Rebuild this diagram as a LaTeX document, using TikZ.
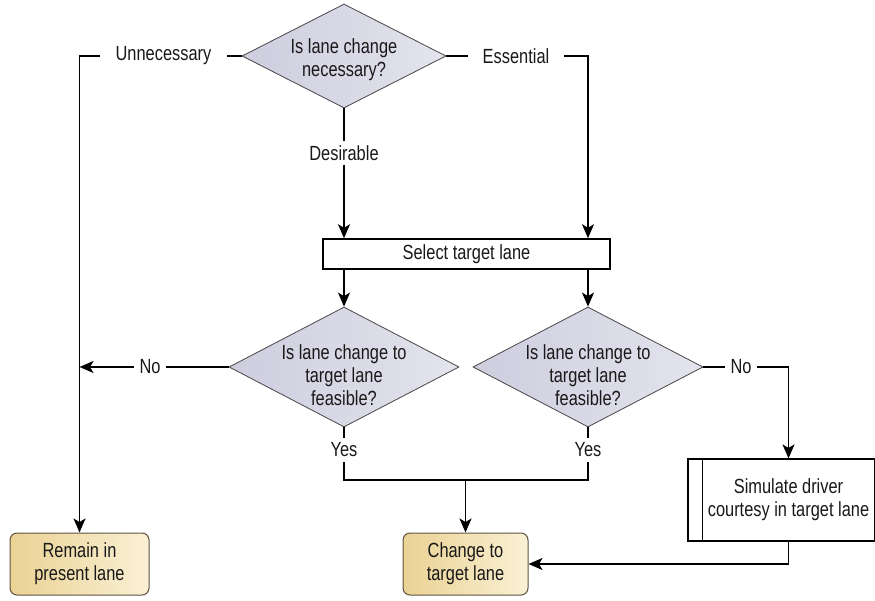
\documentclass[tikz,border=0pt]{standalone}
\usepackage{fontspec}
\setmainfont{Liberation Sans}[FakeStretch=0.8]
\usetikzlibrary{shapes.geometric,arrows.meta,calc}

\definecolor{diaA}{RGB}{205,205,222}
\definecolor{diaB}{RGB}{228,228,238}
\definecolor{goldA}{RGB}{234,210,148}
\definecolor{goldB}{RGB}{250,240,212}
\definecolor{goldEdge}{RGB}{95,85,65}
\definecolor{ink}{RGB}{25,25,25}

\tikzset{
  every node/.style={font=\fontsize{20.5}{23}\selectfont, text=ink},
  decision/.style={diamond, draw=ink!80, line width=0.8pt, inner sep=0pt,
    left color=diaA, right color=diaB},
  label on/.style={inner xsep=#1, inner ysep=4pt},
  label on/.default=15pt,
  plainbox/.style={rectangle, draw=black, line width=1.5pt, fill=white},
  terminal/.style={rectangle, rounded corners=7pt, draw=goldEdge, line width=1pt,
    left color=goldA, right color=goldB, align=center},
  conn/.style={draw=black, line width=1.6pt},
  arr/.style={conn, -{Stealth[length=14pt,width=12pt,inset=3.5pt]}},
}

\begin{document}
\begin{tikzpicture}[x=1pt, y=-1pt]
  \clip (0,0) rectangle (875,601);
  \fill[white] (0,0) rectangle (875,601);

  % decisions
  \node[decision, minimum width=204pt, minimum height=104pt] (q1) at (344,56) {};
  \node[align=center] (q1t) at (344,60) {Is lane change\\necessary?};

  \node[decision, minimum width=230pt, minimum height=120pt] (fa) at (344,367) {};
  \node[align=center] (fat) at (344,375) {Is lane change to\\target lane\\feasible?};

  \node[decision, minimum width=230pt, minimum height=120pt] (fb) at (588,367) {};
  \node[align=center] (fbt) at (588,375) {Is lane change to\\target lane\\feasible?};

  % process boxes
  \node[plainbox, minimum width=287pt, minimum height=30pt] (sel) at (466.5,254) {Select target lane};

  \node[plainbox, line width=1.2pt, minimum width=201pt, minimum height=82pt] (sim) at (788.5,500) {};
  \node[align=center] (simt) at (788.5,500) {Simulate driver\\courtesy in target lane};
  \draw[black, line width=1.2pt] ([xshift=15pt]sim.north west) -- ([xshift=15pt]sim.south west);
  \draw[black, line width=1.2pt] ([xshift=-15pt]sim.north east) -- ([xshift=-15pt]sim.south east);

  % outcomes
  \node[terminal, minimum width=139pt, minimum height=62pt] (remain) at (79.5,564) {Remain in\\present lane};
  \node[terminal, minimum width=125pt, minimum height=62pt] (change) at (465.5,564) {Change to\\target lane};

  % branch labels
  \node[label on] (lunn) at (163.5,56) {Unnecessary};
  \node[label on] (less) at (516,56) {Essential};
  \node[inner xsep=2pt, inner ysep=4pt] (ldes) at (344,153) {Desirable};
  \node[label on=5pt] (lnoa) at (150,367) {No};
  \node[label on=5pt] (lnob) at (741,367) {No};
  \node[inner xsep=2pt, inner ysep=5pt] (lyesa) at (344,450) {Yes};
  \node[inner xsep=2pt, inner ysep=5pt] (lyesb) at (588,450) {Yes};
  \coordinate (jn) at (465.5,480);

  % connectors
  \draw[conn] (q1.west) -- (lunn.east);
  \draw[arr] (lunn.west) -| (remain.north);
  \draw[conn] (q1.east) -- (less.west);
  \draw[arr] (less.east) -| (sel.north -| fb.north);
  \draw[conn] (q1.south) -- (ldes.north);
  \draw[arr] (ldes.south) -- (sel.north -| ldes.south);

  \draw[arr] (sel.south -| fa.north) -- (fa.north);
  \draw[arr] (sel.south -| fb.north) -- (fb.north);

  \draw[conn] (fa.west) -- (lnoa.east);
  \draw[arr] (lnoa.west) -- (lnoa.west -| remain.north);
  \draw[conn] (fb.east) -- (lnob.west);
  \draw[arr] (lnob.east) -| (sim.north);

  \draw[conn] (fa.south) -- (lyesa.north);
  \draw[conn] (fb.south) -- (lyesb.north);
  \draw[conn] (lyesa.south) |- (jn) -| (lyesb.south);
  \draw[arr] (jn) -- (change.north);
  \draw[arr] (sim.south) |- (change.east);
\end{tikzpicture}
\end{document}
